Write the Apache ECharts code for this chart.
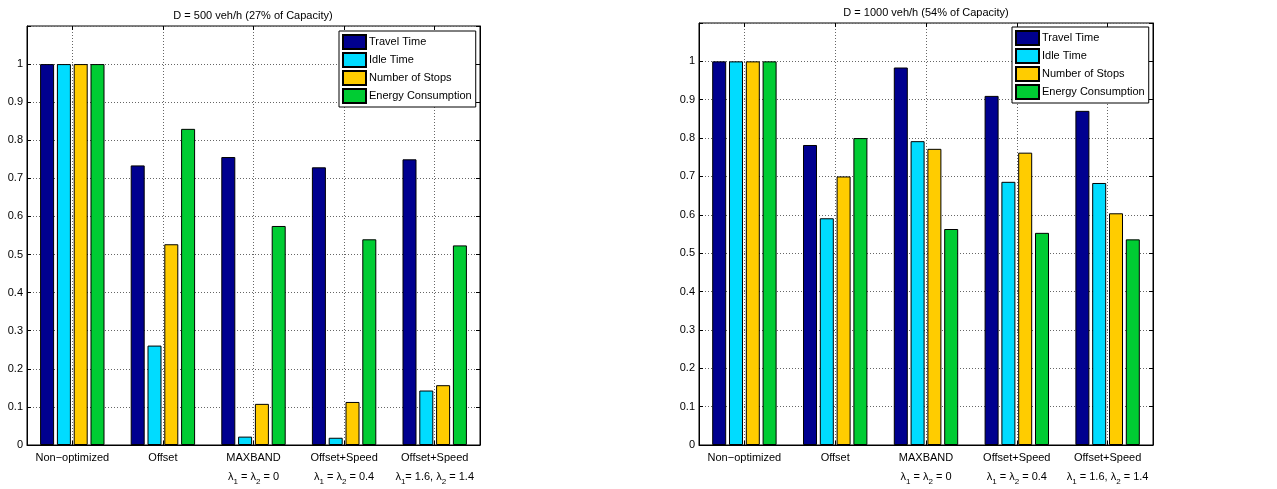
<!DOCTYPE html>
<html>
<head>
<meta charset="utf-8">
<script src="https://cdn.jsdelivr.net/npm/echarts@6/dist/echarts.min.js"></script>
<style>
  html, body { margin: 0; padding: 0; background: #fff; }
  #chart { width: 1277px; height: 489px; }
</style>
</head>
<body>
<div id="chart"></div>
<script>
// data
const categories = ['Non\u2212optimized', 'Offset', 'MAXBAND', 'Offset+Speed', 'Offset+Speed'];
const paramsLeft = ['', '', '\u03bb1 = \u03bb2 = 0', '\u03bb1 = \u03bb2 = 0.4', '\u03bb1= 1.6, \u03bb2 = 1.4'];
const paramsRight = ['', '', '\u03bb1 = \u03bb2 = 0', '\u03bb1 = \u03bb2 = 0.4', '\u03bb1 = 1.6, \u03bb2 = 1.4'];
const seriesNames = ['Travel Time', 'Idle Time', 'Number of Stops', 'Energy Consumption'];
const titles = ['D = 500 veh/h (27% of Capacity)', 'D = 1000 veh/h (54% of Capacity)'];

// D = 500 veh/h
const travel500 = [1, 0.734, 0.756, 0.729, 0.750];
const idle500   = [1, 0.261, 0.022, 0.019, 0.143];
const stops500  = [1, 0.527, 0.108, 0.113, 0.157];
const energy500 = [1, 0.830, 0.575, 0.540, 0.524];

// D = 1000 veh/h
const travel1000 = [1, 0.782, 0.984, 0.910, 0.871];
const idle1000   = [1, 0.591, 0.792, 0.686, 0.683];
const stops1000  = [1, 0.700, 0.772, 0.762, 0.604];
const energy1000 = [1, 0.800, 0.563, 0.553, 0.536];

const colors = ['#00008f', '#00dcff', '#ffcc00', '#00cc33'];

const panels = [
  { grid: { left: 27, top: 26, width: 453, height: 419 }, params: paramsLeft,
    data: [travel500, idle500, stops500, energy500], titleX: 248, titleY: 5, legend: { left: 339, top: 31 } },
  { grid: { left: 699, top: 23, width: 454, height: 422 }, params: paramsRight,
    data: [travel1000, idle1000, stops1000, energy1000], titleX: 921, titleY: 2, legend: { left: 1012, top: 27 } }
];

// half-step slots so the dotted grid sits on the category centres
const halfSlots = Array.from({ length: 11 }, (_, i) => String(i));
const oddOnly = (idx) => idx % 2 === 1;

const grid = [], xAxis = [], yAxis = [], series = [], title = [], legend = [];

panels.forEach((p, k) => {
  grid.push(Object.assign({ show: true, borderColor: '#000', borderWidth: 1, backgroundColor: '#fff', containLabel: false }, p.grid));

  title.push({
    text: titles[k], left: p.titleX, top: p.titleY, textAlign: 'center',
    textStyle: { fontSize: 11, fontWeight: 'normal', color: '#000', fontFamily: 'Liberation Sans' }
  });

  legend.push({
    data: seriesNames, orient: 'vertical', left: p.legend.left, top: p.legend.top,
    itemWidth: 23, itemHeight: 14, itemGap: 2, padding: [3, 4, 3, 3],
    borderColor: '#000', borderWidth: 1, backgroundColor: '#fff', borderRadius: 0,
    icon: 'rect', selectedMode: false,
    textStyle: { fontSize: 11, color: '#000', fontFamily: 'Liberation Sans', padding: [0, 0, 0, -2] }
  });

  // bar axis
  xAxis.push({
    type: 'category', gridIndex: k, data: categories, position: 'bottom',
    axisLine: { show: true, lineStyle: { color: '#000' } },
    axisTick: { show: false },
    axisLabel: {
      interval: 0, margin: 3, color: '#000', fontSize: 11, lineHeight: 19, fontFamily: 'Liberation Sans',
      formatter: (v, i) => {
        const sub = p.params[i];
        return sub ? v + '\n' + sub.replace(/\u03bb(\d)/g, '\u03bb{sub|$1}') : v;
      },
      rich: { sub: { fontSize: 8, lineHeight: 8, verticalAlign: 'bottom', color: '#000', fontFamily: 'Liberation Sans' } }
    },
    splitLine: { show: false }
  });
  // grid / tick axis bottom
  xAxis.push({
    type: 'category', gridIndex: k, data: halfSlots, boundaryGap: false, position: 'bottom',
    axisLine: { show: false }, axisLabel: { show: false },
    axisTick: { show: true, inside: true, length: 4, interval: oddOnly, lineStyle: { color: '#000' } },
    splitLine: { show: true, interval: oddOnly, lineStyle: { color: '#666', type: [1, 2], width: 1 } }
  });
  // tick axis top
  xAxis.push({
    type: 'category', gridIndex: k, data: halfSlots, boundaryGap: false, position: 'top',
    axisLine: { show: false }, axisLabel: { show: false },
    axisTick: { show: true, inside: true, length: 4, interval: oddOnly, lineStyle: { color: '#000' } },
    splitLine: { show: false }
  });

  yAxis.push({
    type: 'value', gridIndex: k, min: 0, max: 1.1, interval: 0.1, position: 'left',
    axisLine: { show: true, lineStyle: { color: '#000' } },
    axisTick: { show: true, inside: true, length: 4, lineStyle: { color: '#000' } },
    axisLabel: {
      color: '#000', fontSize: 11, margin: 4, fontFamily: 'Liberation Sans',
      formatter: v => (v > 1.05 ? '' : String(+v.toFixed(1)))
    },
    splitLine: { show: true, lineStyle: { color: '#666', type: [1, 2], width: 1 } }
  });
  yAxis.push({
    type: 'value', gridIndex: k, min: 0, max: 1.1, interval: 0.1, position: 'right',
    axisLine: { show: true, lineStyle: { color: '#000' } },
    axisTick: { show: true, inside: true, length: 4, lineStyle: { color: '#000' } },
    axisLabel: { show: false },
    splitLine: { show: false }
  });

  seriesNames.forEach((name, s) => {
    series.push({
      name: name, type: 'bar', xAxisIndex: 3 * k, yAxisIndex: 2 * k,
      data: p.data[s], barWidth: 14, barGap: '20%',
      itemStyle: { color: colors[s], borderColor: '#000', borderWidth: 1 },
      emphasis: { disabled: true }
    });
  });
});

const chart = echarts.init(document.getElementById('chart'), null, { renderer: 'canvas' });
chart.setOption({
  animation: false,
  backgroundColor: '#fff',
  textStyle: { fontFamily: 'Liberation Sans' },
  title, legend, grid, xAxis, yAxis, series
});
</script>
</body>
</html>
